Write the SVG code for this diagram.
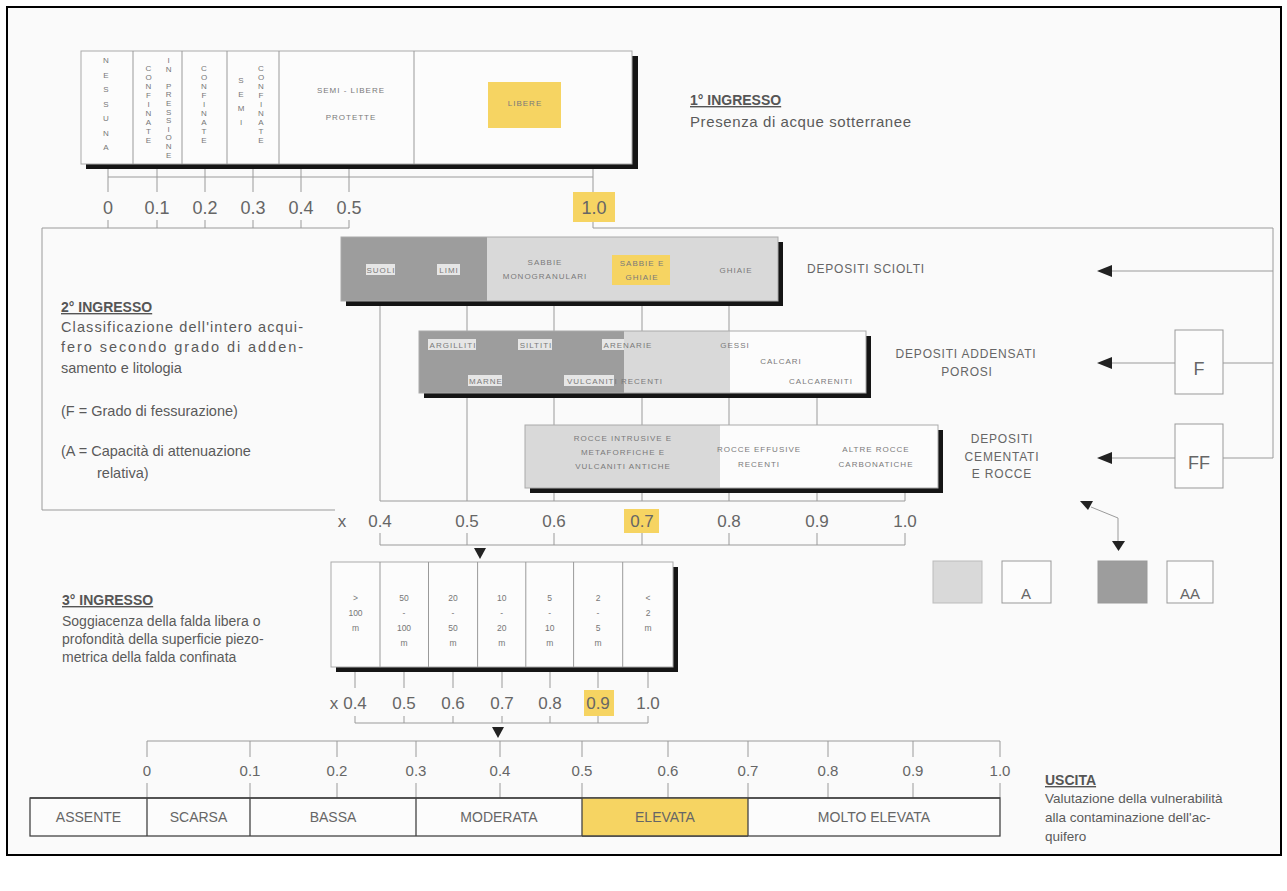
<svg xmlns="http://www.w3.org/2000/svg" width="1287" height="891" viewBox="0 0 1287 891">
<style>
.t{font-family:"Liberation Sans",Arial,sans-serif;fill:#5a5a5a}
.s{font-family:"Liberation Sans",Arial,sans-serif;font-size:8px;letter-spacing:1px;fill:#7a7a7a;text-anchor:middle}
.v{font-family:"Liberation Sans",Arial,sans-serif;font-size:8px;fill:#777;writing-mode:vertical-lr;text-orientation:upright}
.n{font-family:"Liberation Sans",Arial,sans-serif;fill:#666;text-anchor:middle}
.hd{font-family:"Liberation Sans",Arial,sans-serif;font-size:14px;font-weight:bold;fill:#555;text-decoration:underline}
.dp{font-family:"Liberation Sans",Arial,sans-serif;font-size:12px;fill:#666;text-anchor:middle;letter-spacing:0.8px}
.ln{stroke:#9a9a9a;stroke-width:1;fill:none}
.sh{fill:#151515}
.y{fill:#f6d462}
.dk{fill:#9d9d9d}
.lt{fill:#d9d9d9}
.wb{fill:#e6e6e6}
.ar{fill:#222}
</style>
<rect x="0" y="0" width="1287" height="891" fill="#ffffff"/>
<rect x="7" y="7" width="1274" height="848" fill="#fafafa" stroke="#000" stroke-width="2"/>

<g id="connectors">
  <path class="ln" d="M108 169V192M157 169V192M205 169V192M253 169V192M301 169V192M349 169V192M593 169V192M108 177H593"/>
  <path class="ln" d="M108 220V228M157 220V228M205 220V228M253 220V228M301 220V228M349 220V228M42 228H349M42 228V510M42 510H335"/>
  <path class="ln" d="M593 222V228H1273V458"/>
  <path class="ln" d="M1273 271H1110M1273 363H1223M1175 363H1110M1273 458H1223M1175 458H1110"/>
  <polygon class="ar" points="1097,271 1112,265 1112,277"/>
  <polygon class="ar" points="1097,363 1112,357 1112,369"/>
  <polygon class="ar" points="1097,458 1112,452 1112,464"/>
  <path class="ln" d="M380 306V501M467 306V501M554 306V501M642 306V501M729 306V501M817 397V501M905 493V501M380 501H905"/>
  <path class="ln" d="M380 533V545M467 533V545M554 533V545M642 533V545M729 533V545M817 533V545M905 533V545M380 545H905"/>
  <polygon class="ar" points="474,548 486,548 480,559"/>
  <path class="ln" d="M1091 507L1118 518V542" stroke="#666"/>
  <polygon class="ar" points="1080,501 1093,501 1088,510"/>
  <polygon class="ar" points="1112,541 1125,541 1118.5,551"/>
  <path class="ln" d="M355 672V688M404 672V688M453 672V688M502 672V688M550 672V688M598 672V688M648 672V688"/>
  <path class="ln" d="M355 716V723M404 716V723M453 716V723M502 716V723M550 716V723M598 716V723M648 716V723M355 723H648"/>
  <polygon class="ar" points="492,727 504,727 498,738"/>
  <path class="ln" d="M147 741H1000M147 741V757M250 741V757M337 741V757M416 741V757M500 741V757M582 741V757M668 741V757M748 741V757M828 741V757M913 741V757M1000 741V757"/>
  <path class="ln" d="M147 783V798M250 783V798M337 783V798M416 783V798M500 783V798M582 783V798M668 783V798M748 783V798M828 783V798M913 783V798M1000 783V798"/>
</g>

<g id="ingresso1">
  <rect class="sh" x="86" y="56" width="552" height="113"/>
  <rect x="81" y="51" width="551" height="113" fill="#fcfcfc" stroke="#aaa"/>
  <path class="ln" d="M133 51V164M182 51V164M227 51V164M279 51V164M414 51V164"/>
  <text class="v" x="106" y="56" style="letter-spacing:5.5px">NESSUNA</text>
  <text class="v" x="148.5" y="64" style="letter-spacing:0px">CONFINATE</text>
  <text class="v" x="168.7" y="56" style="letter-spacing:-0.4px">IN PRESSIONE</text>
  <text class="v" x="204" y="64" style="letter-spacing:0px">CONFINATE</text>
  <text class="v" x="241" y="76" style="letter-spacing:5px">SEMI</text>
  <text class="v" x="261" y="64" style="letter-spacing:0px">CONFINATE</text>
  <text class="s" x="351" y="93">SEMI - LIBERE</text>
  <text class="s" x="351" y="120">PROTETTE</text>
  <rect class="y" x="488" y="82" width="73" height="46"/>
  <text class="s" x="525" y="106">LIBERE</text>
</g>

<g id="scale1">
  <rect class="y" x="573" y="192" width="42" height="30"/>
  <text class="n" x="108" y="214" font-size="18">0</text>
  <text class="n" x="157" y="214" font-size="18">0.1</text>
  <text class="n" x="205" y="214" font-size="18">0.2</text>
  <text class="n" x="253" y="214" font-size="18">0.3</text>
  <text class="n" x="301" y="214" font-size="18">0.4</text>
  <text class="n" x="349" y="214" font-size="18">0.5</text>
  <text class="n" x="594" y="214" font-size="18">1.0</text>
</g>

<g id="title1">
  <text class="hd" x="690" y="105">1° INGRESSO</text>
  <text class="t" x="690" y="127" font-size="15" letter-spacing="0.6">Presenza di acque sotterranee</text>
</g>

<g id="title2">
  <text class="hd" x="61" y="312">2° INGRESSO</text>
  <text class="t" x="61" y="332" font-size="14.5" textLength="242" lengthAdjust="spacing">Classificazione dell'intero acqui-</text>
  <text class="t" x="61" y="352" font-size="14.5" textLength="242" lengthAdjust="spacing">fero secondo grado di adden-</text>
  <text class="t" x="61" y="373" font-size="14.5">samento e litologia</text>
  <text class="t" x="61" y="416" font-size="14.5">(F = Grado di fessurazione)</text>
  <text class="t" x="61" y="456" font-size="14.5">(A = Capacità di attenuazione</text>
  <text class="t" x="97" y="478" font-size="14.5">relativa)</text>
</g>

<g id="sciolti">
  <rect class="sh" x="346" y="242" width="437" height="64"/>
  <rect class="dk" x="341" y="237" width="146" height="64"/>
  <rect class="lt" x="487" y="237" width="291" height="64"/>
  <rect x="341" y="237" width="437" height="64" fill="none" stroke="#aaa"/>
  <rect class="wb" x="366" y="264" width="29" height="11"/>
  <text class="s" x="381" y="273">SUOLI</text>
  <rect class="wb" x="437" y="264" width="23" height="11"/>
  <text class="s" x="449" y="273">LIMI</text>
  <text class="s" x="545" y="265">SABBIE</text>
  <text class="s" x="545" y="279">MONOGRANULARI</text>
  <rect class="y" x="612" y="255" width="58" height="30"/>
  <text class="s" x="642" y="266">SABBIE E</text>
  <text class="s" x="642" y="280">GHIAIE</text>
  <text class="s" x="736" y="273">GHIAIE</text>
  <text class="dp" x="866" y="273">DEPOSITI SCIOLTI</text>
</g>

<g id="addensati">
  <rect class="sh" x="424" y="336" width="447" height="62"/>
  <rect class="dk" x="419" y="331" width="205" height="62"/>
  <rect class="lt" x="624" y="331" width="106" height="62"/>
  <rect x="730" y="331" width="136" height="62" fill="#fcfcfc"/>
  <rect x="419" y="331" width="447" height="62" fill="none" stroke="#aaa"/>
  <rect class="wb" x="428" y="339" width="48" height="11"/>
  <text class="s" x="453" y="348">ARGILLITI</text>
  <rect class="wb" x="518" y="339" width="34" height="11"/>
  <text class="s" x="536" y="348">SILTITI</text>
  <rect class="wb" x="602" y="339" width="22" height="11"/>
  <text class="s" x="628" y="348">ARENARIE</text>
  <text class="s" x="735" y="348">GESSI</text>
  <text class="s" x="781" y="364">CALCARI</text>
  <rect class="wb" x="468" y="375" width="34" height="11"/>
  <text class="s" x="486" y="384">MARNE</text>
  <rect class="wb" x="564" y="375" width="50" height="11"/>
  <text class="s" x="615" y="384">VULCANITI RECENTI</text>
  <text class="s" x="821" y="384">CALCARENITI</text>
  <text class="dp" x="966" y="358">DEPOSITI ADDENSATI</text>
  <text class="dp" x="967" y="376">POROSI</text>
</g>

<g id="cementati">
  <rect class="sh" x="530" y="430" width="413" height="63"/>
  <rect class="lt" x="525" y="425" width="195" height="63"/>
  <rect x="720" y="425" width="218" height="63" fill="#fcfcfc"/>
  <rect x="525" y="425" width="413" height="63" fill="none" stroke="#aaa"/>
  <text class="s" x="623" y="441">ROCCE INTRUSIVE E</text>
  <text class="s" x="623" y="455">METAFORFICHE E</text>
  <text class="s" x="623" y="469">VULCANITI ANTICHE</text>
  <text class="s" x="759" y="452">ROCCE EFFUSIVE</text>
  <text class="s" x="759" y="467">RECENTI</text>
  <text class="s" x="876" y="452">ALTRE ROCCE</text>
  <text class="s" x="876" y="467">CARBONATICHE</text>
  <text class="dp" x="1002" y="443">DEPOSITI</text>
  <text class="dp" x="1002" y="461">CEMENTATI</text>
  <text class="dp" x="1002" y="478">E ROCCE</text>
</g>

<g id="fbox">
  <rect x="1175" y="330" width="48" height="64" fill="#fcfcfc" stroke="#999"/>
  <text class="n" x="1199" y="375" font-size="18">F</text>
</g>
<g id="ffbox">
  <rect x="1175" y="424" width="48" height="64" fill="#fcfcfc" stroke="#999"/>
  <text class="n" x="1199" y="469" font-size="18">FF</text>
</g>

<g id="scale2">
  <rect class="y" x="624" y="509" width="35" height="24"/>
  <text class="n" x="342" y="527" font-size="17">x</text>
  <text class="n" x="380" y="527" font-size="17">0.4</text>
  <text class="n" x="467" y="527" font-size="17">0.5</text>
  <text class="n" x="554" y="527" font-size="17">0.6</text>
  <text class="n" x="642" y="527" font-size="17">0.7</text>
  <text class="n" x="729" y="527" font-size="17">0.8</text>
  <text class="n" x="817" y="527" font-size="17">0.9</text>
  <text class="n" x="905" y="527" font-size="17">1.0</text>
</g>

<g id="legend">
  <rect x="933" y="561" width="49" height="42" fill="#d9d9d9" stroke="#bbb"/>
  <rect x="1002" y="561" width="49" height="42" fill="#fcfcfc" stroke="#999"/>
  <text class="n" x="1026" y="599" font-size="15">A</text>
  <rect x="1098" y="561" width="49" height="42" fill="#9d9d9d" stroke="#999"/>
  <rect x="1167" y="561" width="46" height="42" fill="#fcfcfc" stroke="#999"/>
  <text class="n" x="1190" y="599" font-size="15">AA</text>
</g>

<g id="title3">
  <text class="hd" x="62" y="605">3° INGRESSO</text>
  <text class="t" x="62" y="626" font-size="14">Soggiacenza della falda libera o</text>
  <text class="t" x="62" y="644" font-size="14">profondità della superficie piezo-</text>
  <text class="t" x="62" y="662" font-size="14">metrica della falda confinata</text>
</g>

<g id="soggiacenza">
  <rect class="sh" x="336" y="567" width="342" height="105"/>
  <rect x="331" y="562" width="342" height="105" fill="#fcfcfc" stroke="#aaa"/>
  <path class="ln" d="M380 562V667M428.5 562V667M477.6 562V667M525.8 562V667M573.6 562V667M622.7 562V667"/>
  <g font-family="Liberation Sans, Arial, sans-serif" font-size="8.5" fill="#777" text-anchor="middle">
    <text x="355.5" y="601">&gt;</text><text x="355.5" y="616">100</text><text x="355.5" y="631">m</text>
    <text x="404" y="601">50</text><text x="404" y="616">-</text><text x="404" y="631">100</text><text x="404" y="646">m</text>
    <text x="453" y="601">20</text><text x="453" y="616">-</text><text x="453" y="631">50</text><text x="453" y="646">m</text>
    <text x="501.7" y="601">10</text><text x="501.7" y="616">-</text><text x="501.7" y="631">20</text><text x="501.7" y="646">m</text>
    <text x="549.7" y="601">5</text><text x="549.7" y="616">-</text><text x="549.7" y="631">10</text><text x="549.7" y="646">m</text>
    <text x="598" y="601">2</text><text x="598" y="616">-</text><text x="598" y="631">5</text><text x="598" y="646">m</text>
    <text x="648" y="601">&lt;</text><text x="648" y="616">2</text><text x="648" y="631">m</text>
  </g>
</g>

<g id="scale3">
  <rect class="y" x="584" y="690" width="30" height="26"/>
  <text class="n" x="334" y="709" font-size="17">x</text>
  <text class="n" x="355" y="709" font-size="17">0.4</text>
  <text class="n" x="404" y="709" font-size="17">0.5</text>
  <text class="n" x="453" y="709" font-size="17">0.6</text>
  <text class="n" x="502" y="709" font-size="17">0.7</text>
  <text class="n" x="550" y="709" font-size="17">0.8</text>
  <text class="n" x="598" y="709" font-size="17">0.9</text>
  <text class="n" x="648" y="709" font-size="17">1.0</text>
</g>

<g id="scale4">
  <text class="n" x="147" y="776" font-size="15">0</text>
  <text class="n" x="250" y="776" font-size="15">0.1</text>
  <text class="n" x="337" y="776" font-size="15">0.2</text>
  <text class="n" x="416" y="776" font-size="15">0.3</text>
  <text class="n" x="500" y="776" font-size="15">0.4</text>
  <text class="n" x="582" y="776" font-size="15">0.5</text>
  <text class="n" x="668" y="776" font-size="15">0.6</text>
  <text class="n" x="748" y="776" font-size="15">0.7</text>
  <text class="n" x="828" y="776" font-size="15">0.8</text>
  <text class="n" x="913" y="776" font-size="15">0.9</text>
  <text class="n" x="1000" y="776" font-size="15">1.0</text>
</g>

<g id="uscita">
  <rect x="30" y="798" width="970" height="38" fill="#fcfcfc" stroke="#444" stroke-width="1.3"/>
  <rect class="y" x="582" y="798" width="166" height="38"/>
  <path d="M147 798V836M250 798V836M416 798V836M582 798V836M748 798V836M30 798H1000M582 836H748" stroke="#444" stroke-width="1.3" fill="none"/>
  <text class="n" x="88.5" y="822" font-size="14">ASSENTE</text>
  <text class="n" x="198.5" y="822" font-size="14">SCARSA</text>
  <text class="n" x="333" y="822" font-size="14">BASSA</text>
  <text class="n" x="499" y="822" font-size="14">MODERATA</text>
  <text class="n" x="665" y="822" font-size="14">ELEVATA</text>
  <text class="n" x="874" y="822" font-size="14">MOLTO ELEVATA</text>
</g>

<g id="title4">
  <text class="hd" x="1045" y="785">USCITA</text>
  <text class="t" x="1045" y="803" font-size="13.5">Valutazione della vulnerabilità</text>
  <text class="t" x="1045" y="822" font-size="13.5">alla contaminazione dell'ac-</text>
  <text class="t" x="1045" y="841" font-size="13.5">quifero</text>
</g>
</svg>
